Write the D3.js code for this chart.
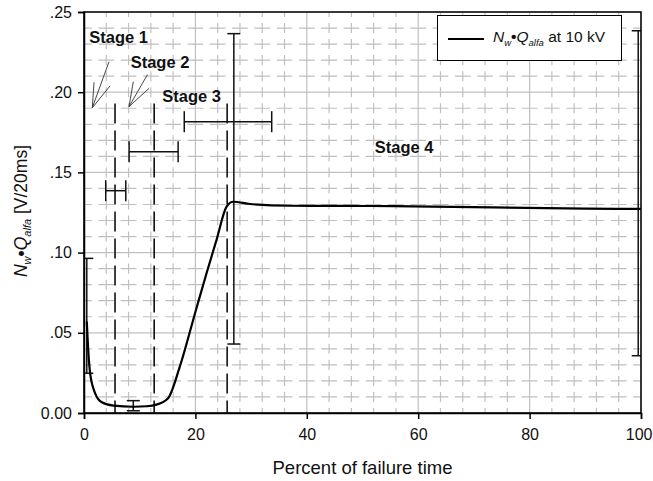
<!DOCTYPE html>
<html>
<head>
<meta charset="utf-8">
<script src="https://cdn.jsdelivr.net/npm/d3@7"></script>
<style>
  html, body { margin: 0; padding: 0; background: #fff; }
  svg { display: block; font-family: "Liberation Sans", Arial, sans-serif; }
</style>
</head>
<body>
<svg id="chart" width="653" height="481"></svg>
<script>
// Mean N_w·Q_alfa curve over the failure time (percent)
const curveX = [0.5, 0.8, 1.1, 2.0, 3.2, 5.3, 8.9, 11.3, 13.0, 15.1, 17.2, 20, 22, 23.8, 25.6, 26.8, 29.8, 37, 55.5, 90, 100];
const curveY = [0.057, 0.037, 0.0248, 0.0123, 0.0067, 0.0046, 0.0039, 0.0042, 0.0052, 0.0092, 0.0289, 0.063, 0.0871, 0.108, 0.1286, 0.1317, 0.1303, 0.1292, 0.1290, 0.1274, 0.1272];

// Vertical error bars: position and low / high value
const vErrX = [0.5, 8.85, 26.9, 99.5];
const vErrLow = [0.0248, 0.0014, 0.043, 0.0357];
const vErrHigh = [0.0964, 0.0077, 0.2365, 0.2383];

// Horizontal error bars (spread of stage boundaries)
const hErrY = [0.1386, 0.1629, 0.1816];
const hErrLow = [3.9, 8.1, 18.0];
const hErrHigh = [7.5, 16.9, 33.7];

// Stage boundaries (dashed verticals)
const stageBounds = [5.57, 12.6, 25.7];
const stageTop = 0.193;

// Stage labels
const stageNames = ["Stage 1", "Stage 2", "Stage 3", "Stage 4"];
const stageLabelX = [0.95, 8.38, 14.06, 52.2];
const stageLabelY = [0.2307, 0.2151, 0.1937, 0.1619];

// Pointer arrows under Stage 1 and Stage 2: tip, tail, two barbs
const arrowTip = [[1.49, 0.1903], [8.08, 0.191]];
const arrowTail = [[4.49, 0.219], [11.4, 0.211]];
const arrowBarbA = [[1.8, 0.2062], [8.85, 0.2066]];
const arrowBarbB = [[4.67, 0.2039], [11.67, 0.2024]];

// Axes
const xTicks = [0, 20, 40, 60, 80, 100];
const yTicks = [0, 0.05, 0.10, 0.15, 0.20, 0.25];
const yTickLabels = ["0.00", ".05", ".10", ".15", ".20", ".25"];
const xMinor = d3.range(0, 100.001, 4);
const yMinor = d3.range(0, 0.2501, 0.01);

const svg = d3.select("#chart");
const W = 653, H = 481;
const m = { left: 84, top: 12, right: 12, bottom: 68 };
const pw = W - m.left - m.right, ph = H - m.top - m.bottom;

const x = d3.scaleLinear().domain([0, 100]).range([0, pw]);
const y = d3.scaleLinear().domain([0, 0.25]).range([ph, 0]);

svg.append("defs").append("clipPath").attr("id", "plotClip")
  .append("rect").attr("width", pw).attr("height", ph);

const g = svg.append("g").attr("transform", `translate(${m.left},${m.top})`);

// Grid: solid major lines, broken minor lines that cross at each node
const gridColor = "#c0c0c0";
const grid = g.append("g");
const cellX = x(4) - x(0);
const cellY = y(0) - y(0.01);
const gapX = 6.5, gapY = 6;

yMinor.forEach(v => {
  const major = Math.abs(v / 0.05 - Math.round(v / 0.05)) < 1e-6;
  const ln = grid.append("line")
    .attr("x1", 0).attr("x2", pw)
    .attr("y1", y(v)).attr("y2", y(v))
    .attr("stroke", gridColor).attr("stroke-width", 1.2);
  if (!major) ln.attr("stroke-dasharray", `${cellX - gapX},${gapX}`)
                .attr("stroke-dashoffset", (cellX - gapX) / 2);
});
xMinor.forEach(v => {
  const major = Math.abs(v / 20 - Math.round(v / 20)) < 1e-6;
  const ln = grid.append("line")
    .attr("x1", x(v)).attr("x2", x(v))
    .attr("y1", ph).attr("y2", 0)
    .attr("stroke", gridColor).attr("stroke-width", 1.2);
  if (!major) ln.attr("stroke-dasharray", `${cellY - gapY},${gapY}`)
                .attr("stroke-dashoffset", (cellY - gapY) / 2);
});

const plot = g.append("g").attr("clip-path", "url(#plotClip)");

// Stage boundaries
stageBounds.forEach(b => {
  plot.append("line")
    .attr("x1", x(b)).attr("x2", x(b))
    .attr("y1", y(stageTop)).attr("y2", y(0))
    .attr("stroke", "#111").attr("stroke-width", 1.6)
    .attr("stroke-dasharray", "20,7");
});

// Horizontal error bars
const hCap = 10.5;
hErrY.forEach((v, i) => {
  const e = plot.append("g").attr("stroke", "#111").attr("stroke-width", 1.5);
  e.append("line").attr("x1", x(hErrLow[i])).attr("x2", x(hErrHigh[i])).attr("y1", y(v)).attr("y2", y(v));
  [hErrLow[i], hErrHigh[i]].forEach(xx =>
    e.append("line").attr("x1", x(xx)).attr("x2", x(xx)).attr("y1", y(v) - hCap).attr("y2", y(v) + hCap));
});

// Vertical error bars
const vCap = 6.5;
vErrX.forEach((v, i) => {
  const e = plot.append("g").attr("stroke", "#111").attr("stroke-width", 1.5);
  e.append("line").attr("x1", x(v)).attr("x2", x(v)).attr("y1", y(vErrLow[i])).attr("y2", y(vErrHigh[i]));
  [vErrLow[i], vErrHigh[i]].forEach(yy =>
    e.append("line").attr("x1", x(v) - vCap).attr("x2", x(v) + vCap).attr("y1", y(yy)).attr("y2", y(yy)));
});

// Mean curve
const line = d3.line().x(d => x(d[0])).y(d => y(d[1])).curve(d3.curveMonotoneX);
plot.append("path")
  .datum(curveX.map((v, i) => [v, curveY[i]]))
  .attr("d", line)
  .attr("fill", "none").attr("stroke", "#000").attr("stroke-width", 2.2);

// Arrows
arrowTip.forEach((tip, i) => {
  const a = plot.append("g").attr("stroke", "#333").attr("stroke-width", 0.9);
  [arrowTail[i], arrowBarbA[i], arrowBarbB[i]].forEach(p =>
    a.append("line").attr("x1", x(tip[0])).attr("y1", y(tip[1])).attr("x2", x(p[0])).attr("y2", y(p[1])));
});

// Stage labels
stageNames.forEach((s, i) => {
  g.append("text")
    .attr("x", x(stageLabelX[i])).attr("y", y(stageLabelY[i]))
    .attr("font-size", 16.5).attr("font-weight", "bold").attr("fill", "#111")
    .text(s);
});

// Frame
g.append("rect").attr("width", pw).attr("height", ph)
  .attr("fill", "none").attr("stroke", "#000").attr("stroke-width", 1.5);

// Axes
const xAxis = g.append("g").attr("transform", `translate(0,${ph})`)
  .call(d3.axisBottom(x).tickValues(xTicks).tickSize(6).tickPadding(10).tickFormat(d3.format("d")));
const yAxis = g.append("g")
  .call(d3.axisLeft(y).tickValues(yTicks).tickSize(6).tickPadding(6).tickFormat((d, i) => yTickLabels[i]));
[xAxis, yAxis].forEach(ax => {
  ax.select(".domain").attr("stroke", "#000").attr("stroke-width", 1.5);
  ax.selectAll(".tick line").attr("stroke", "#000").attr("stroke-width", 1.5);
  ax.selectAll(".tick text").attr("font-size", 16).attr("fill", "#111")
    .attr("font-family", "Liberation Sans, Arial, sans-serif");
});
// keep the last x label inside the page
xAxis.selectAll(".tick text").filter(d => d === 100).attr("text-anchor", "end").attr("dx", 11);

// Axis titles
svg.append("text")
  .attr("x", m.left + x(50)).attr("y", 474)
  .attr("text-anchor", "middle").attr("font-size", 18.5).attr("fill", "#111")
  .text("Percent of failure time");

const yt = svg.append("text")
  .attr("transform", "translate(27,211) rotate(-90)")
  .attr("text-anchor", "middle").attr("font-size", 17.5).attr("fill", "#111");
yt.append("tspan").attr("font-style", "italic").text("N");
yt.append("tspan").attr("font-style", "italic").attr("font-size", 11).attr("dy", 4).text("w");
yt.append("tspan").attr("dy", -4).attr("font-weight", "bold").text("\u2022");
yt.append("tspan").attr("font-style", "italic").text("Q");
yt.append("tspan").attr("font-style", "italic").attr("font-size", 11).attr("dy", 4).text("alfa");
yt.append("tspan").attr("dy", -4).text(" [V/20ms]");

// Legend
const lg = svg.append("g");
lg.append("rect").attr("x", 437.5).attr("y", 15.5).attr("width", 184).attr("height", 45)
  .attr("fill", "#fff").attr("stroke", "#000").attr("stroke-width", 1);
lg.append("line").attr("x1", 448).attr("x2", 484).attr("y1", 39).attr("y2", 39)
  .attr("stroke", "#000").attr("stroke-width", 2.2);
const lt = lg.append("text").attr("x", 493).attr("y", 42).attr("font-size", 15.5).attr("fill", "#111");
lt.append("tspan").attr("font-style", "italic").text("N");
lt.append("tspan").attr("font-style", "italic").attr("font-size", 9.5).attr("dy", 4).text("w");
lt.append("tspan").attr("dy", -4).attr("font-weight", "bold").text("\u2022");
lt.append("tspan").attr("font-style", "italic").text("Q");
lt.append("tspan").attr("font-style", "italic").attr("font-size", 9.5).attr("dy", 4).text("alfa");
lt.append("tspan").attr("dy", -4).text(" at 10 kV");
</script>
</body>
</html>
